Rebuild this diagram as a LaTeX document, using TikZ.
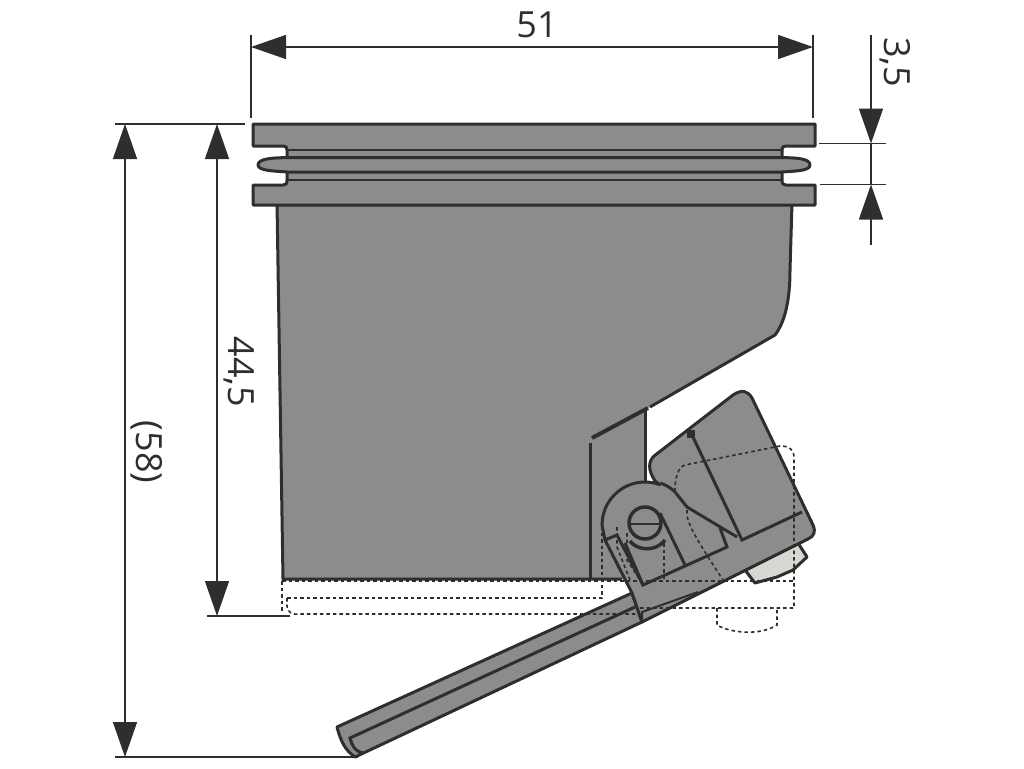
\documentclass[tikz,border=0pt]{standalone}
\usepackage{fontspec}
\setmainfont{Open Sans}
\usetikzlibrary{arrows.meta}
\definecolor{partgray}{HTML}{8C8C8C}
\definecolor{partline}{HTML}{2E2E2E}
\definecolor{boltgray}{HTML}{D6D8D2}
\tikzset{
  part/.style={draw=partline, fill=partgray, line width=3pt, line join=round},
  edge/.style={draw=partline, line width=3pt},
  hidden/.style={draw=partline, line width=1.6pt, dash pattern=on 3.5pt off 3pt},
  dimline/.style={draw=partline, line width=1.4pt},
  dimarrow/.style={dimline, {Triangle[length=35pt,width=24pt]}-{Triangle[length=35pt,width=24pt]}},
  dimhead/.style={dimline, -{Triangle[length=35pt,width=24pt]}},
  dimtext/.style={text=partline, font=\fontsize{36}{38}\selectfont, inner sep=0pt}
}
\begin{document}
\begin{tikzpicture}[x=1pt, y=-1pt]
\useasboundingbox (0, 0) rectangle (1024, 768);

\fill[partgray] (277, 203) -- (283, 579) -- (625, 579) -- (645, 520) -- (645, 410) -- (650, 407) -- (775, 335) .. controls (785, 322) and (790, 300) .. (790, 270) -- (792, 203) -- cycle;
\draw[edge] (277, 203) -- (283, 579) -- (622, 579);
\draw[edge] (792, 203) -- (790, 270) .. controls (790, 300) and (785, 322) .. (775, 335) -- (650, 407);
\draw[edge] (590, 443) -- (590, 579);
\draw[partline, line width=4pt] (592, 438) -- (648, 408);
\draw[edge] (645, 410) -- (645, 482);

\draw[part] (253, 124) -- (815, 124) -- (815, 146) -- (786, 146) .. controls (783, 146) and (782, 147) .. (782, 150) -- (782, 180) .. controls (782, 184) and (783, 185) .. (786, 185) -- (815, 185) -- (815, 205) -- (253, 205) -- (253, 185) -- (283, 185) .. controls (286, 185) and (287, 184) .. (287, 180) -- (287, 150) .. controls (287, 147) and (286, 146) .. (283, 146) -- (253, 146) -- cycle;
\draw[part] (287, 157.5) .. controls (275, 158) and (258, 158) .. (258, 165) .. controls (258, 171) and (275, 171) .. (287, 172) -- (782, 172) .. controls (795, 171) and (810, 171) .. (810, 165) .. controls (810, 158) and (795, 158) .. (782, 157.5) -- cycle;
\draw[partline, line width=2.4pt] (287, 150) -- (782, 150);
\draw[partline, line width=2.4pt] (287, 180) -- (782, 180);

\draw[part, fill=boltgray] (798, 543) -- (807, 557) -- (793, 570) -- (777, 577) -- (755, 583) -- (745, 570) -- cycle;

\draw[part] (337, 727) -- (632, 593) -- (642, 622) -- (355, 757) .. controls (345, 750) and (341, 742) .. (337, 727) -- cycle;
\draw[edge] (635, 607) -- (350, 738) .. controls (352, 745) and (354, 751) .. (363, 753);

\draw[part] (602, 525) arc (180:290:43) -- (655, 481) .. controls (648, 470) and (648, 462) .. (654, 456) -- (733, 395) .. controls (742, 389) and (748, 391) .. (752, 398) -- (813, 525) .. controls (816, 532) and (814, 536) .. (808, 539) -- (642, 622) -- (632, 593) -- (605, 540) -- cycle;
\draw[edge] (660.5, 483) arc (290:309:43) -- (675, 492) -- (687, 507) -- (737, 537);
\draw[edge] (605, 540) -- (617, 535) -- (643, 585) -- (727, 547) -- (720, 528);
\draw[edge] (692, 435) -- (742, 540) -- (802, 512);
\draw[edge] (660, 513) -- (685, 565);
\draw[edge] (625, 543) -- (643, 585);
\draw[partline, line width=2pt] (642, 622) -- (642, 612) -- (698, 592);
\fill[partline] (687, 430) rectangle (695, 438);

\draw[partline, line width=3.5pt, fill=partgray] (645, 523) circle (16);
\draw[partline, line width=3.5pt] (630, 541) .. controls (636, 550) and (655, 553) .. (665, 540);
\draw[partline, line width=1.8pt] (631, 524) -- (660, 524);

\draw[hidden] (282, 581) -- (795, 581);
\draw[hidden] (282, 581) -- (282, 612);
\draw[hidden] (287, 598) -- (602, 598) -- (602, 525);
\draw[hidden] (287, 598) -- (287, 606) .. controls (287, 612) and (292, 615) .. (300, 614) -- (640, 614);
\draw[hidden] (640, 608) -- (794, 608) -- (794, 458) .. controls (794, 450) and (790, 446) .. (780, 446) -- (685, 465) .. controls (678, 467) and (675, 478) .. (675, 490);
\draw[hidden] (717, 608) -- (717, 625) .. controls (730, 633) and (760, 636) .. (777, 625) -- (777, 608);
\draw[hidden] (687, 510) .. controls (686, 520) and (690, 530) .. (723, 580);
\draw[hidden] (617, 527) -- (617, 547) -- (630, 580);
\draw[hidden] (627, 533) -- (627, 560) -- (640, 580);
\draw[hidden] (664, 543) -- (664, 580);

\coordinate (widthL) at (251, 47);
\coordinate (widthR) at (813, 47);
\coordinate (fullT) at (125, 124);
\coordinate (fullB) at (125, 757);
\coordinate (bodyT) at (217, 124);
\coordinate (bodyB) at (217, 616);
\coordinate (rimT) at (871, 143.5);
\coordinate (rimB) at (871, 184.5);
\coordinate (rimS) at (871, 35);
\coordinate (rimE) at (871, 245);

\draw[dimline] (251, 35) -- (251, 118);
\draw[dimline] (813, 35) -- (813, 118);
\draw[dimline] (115, 124) -- (245, 124);
\draw[dimline] (207, 616) -- (290, 616);
\draw[dimline] (115, 757) -- (358, 757);
\draw[dimline] (819, 143.5) -- (886, 143.5);
\draw[dimline] (820, 184.5) -- (886, 184.5);

\draw[dimarrow] (widthL) -- (widthR);
\draw[dimarrow] (fullT) -- (fullB);
\draw[dimarrow] (bodyT) -- (bodyB);
\draw[dimhead] (rimS) -- (rimT);
\draw[dimhead] (rimE) -- (rimB);
\draw[dimline] (rimT) -- (rimB);

\node[dimtext] (widthlabel) at (537, 25) {51};
\node[dimtext, rotate=-90] (fulllabel) at (147, 452) {(58)};
\node[dimtext, rotate=-90] (bodylabel) at (239, 372) {44,5};
\node[dimtext, rotate=-90] (rimlabel) at (895, 62) {3,5};

\end{tikzpicture}
\end{document}
